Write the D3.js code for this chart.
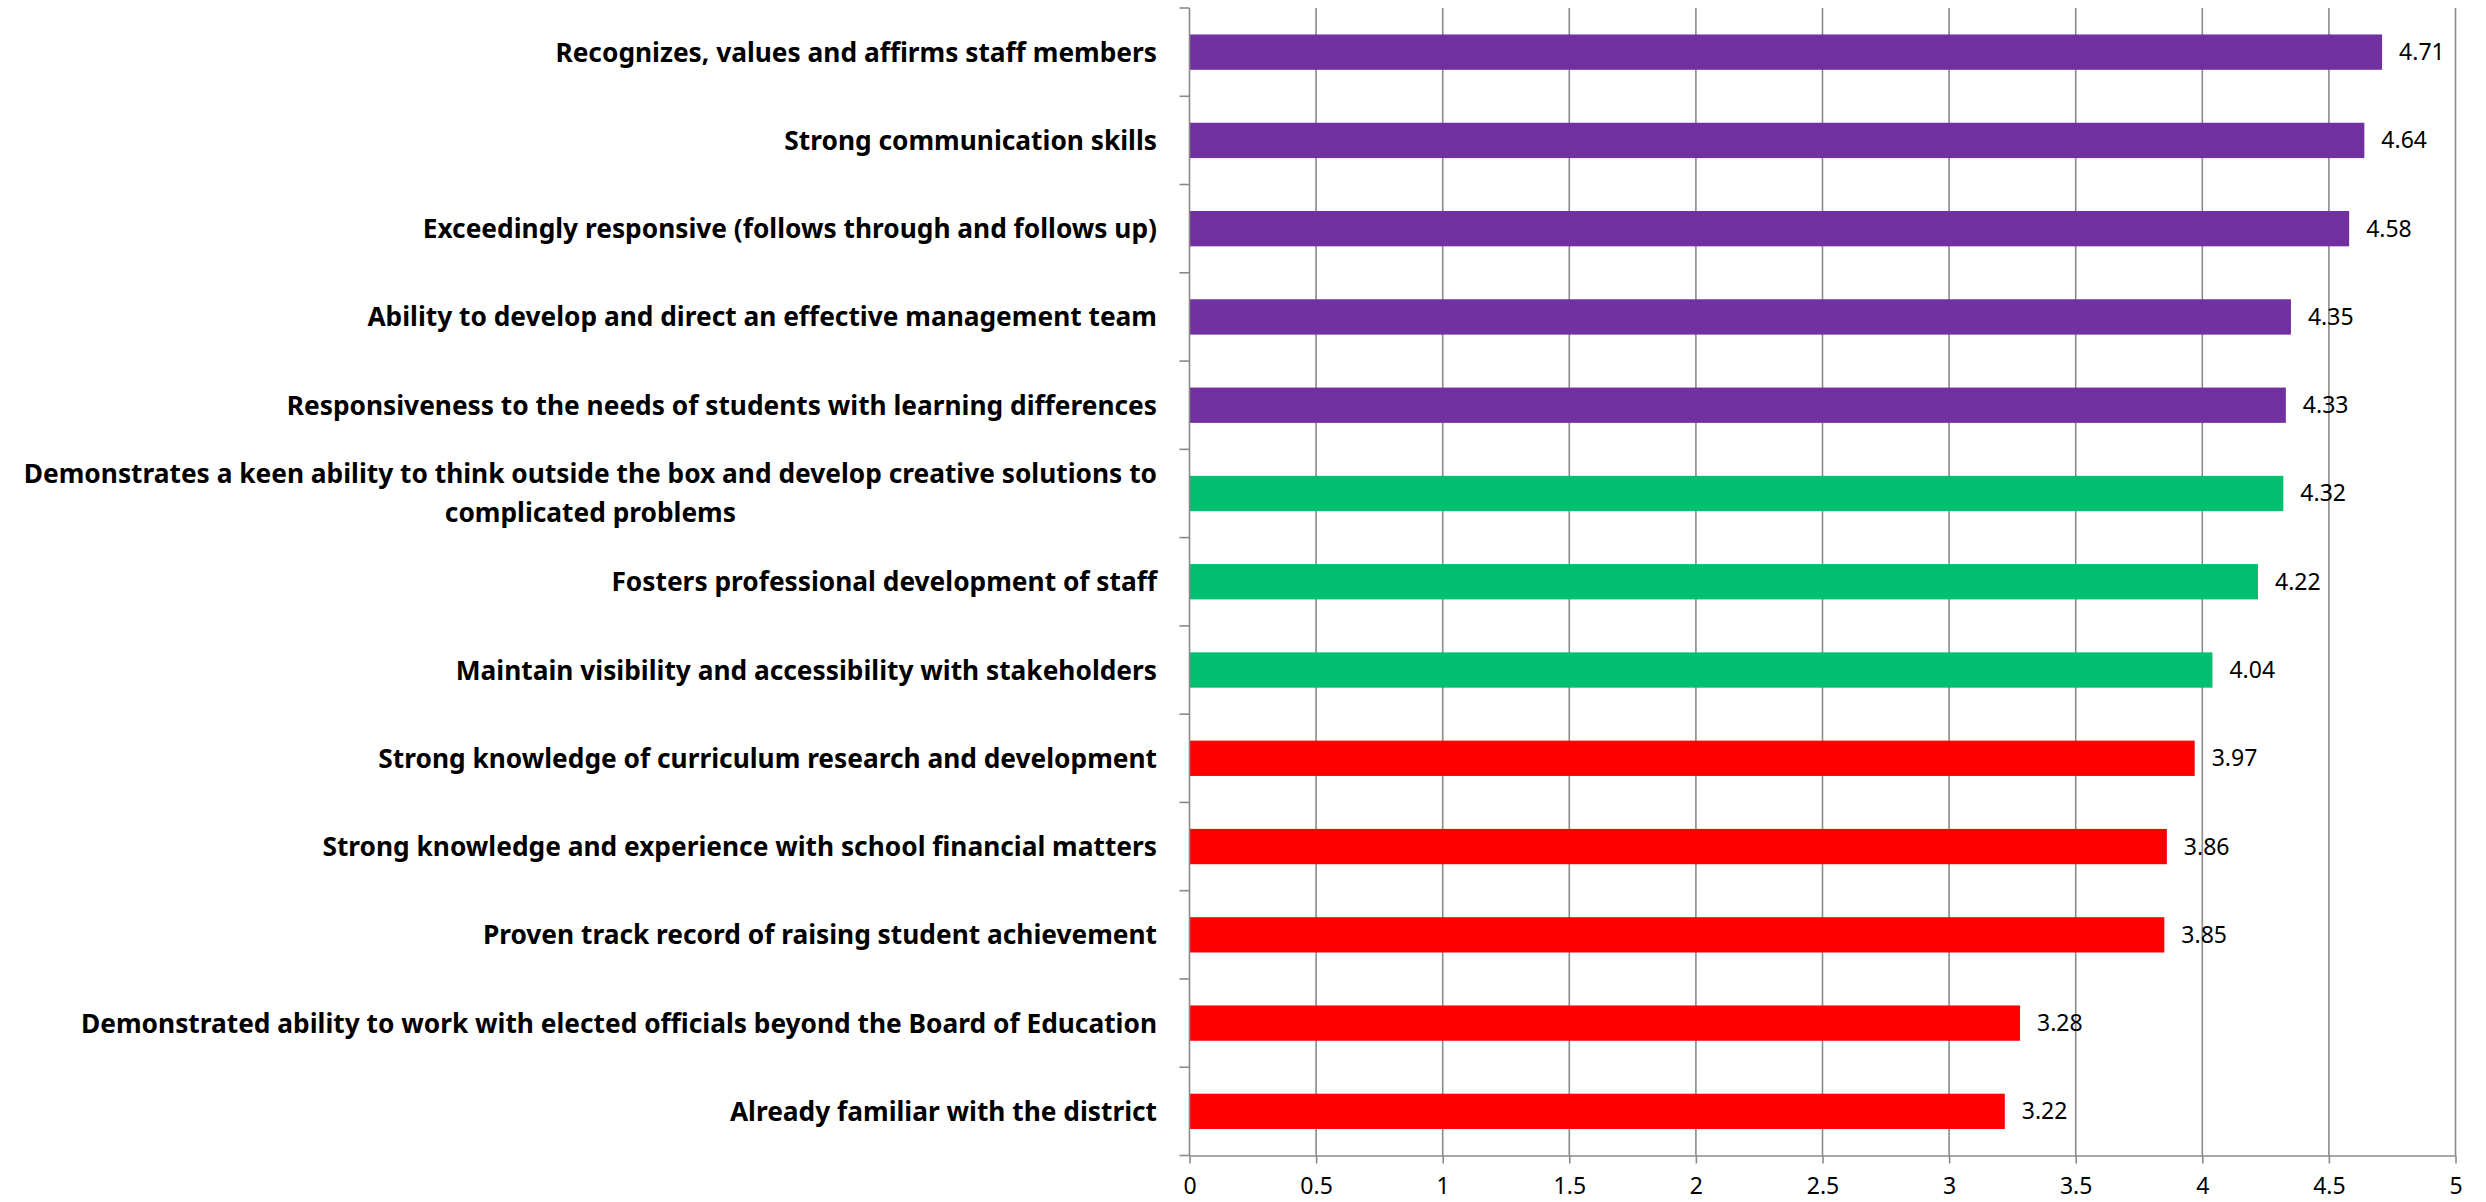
<!DOCTYPE html>
<html><head><meta charset="utf-8">
<script src="https://cdn.jsdelivr.net/npm/d3@7"></script>
<style>html,body{margin:0;padding:0;background:#fff}</style>
</head><body>
<svg id="chart" width="2486" height="1202"></svg>
<script>
const categories = [
  "Recognizes, values and affirms staff members",
  "Strong communication skills",
  "Exceedingly responsive (follows through and follows up)",
  "Ability to develop and direct an effective management team",
  "Responsiveness to the needs of students with learning differences",
  "Demonstrates a keen ability to think outside the box and develop creative solutions to complicated problems",
  "Fosters professional development of staff",
  "Maintain visibility and accessibility with stakeholders",
  "Strong knowledge of curriculum research and development",
  "Strong knowledge and experience with school financial matters",
  "Proven track record of raising student achievement",
  "Demonstrated ability to work with elected officials beyond the Board of Education",
  "Already familiar with the district"
];
const values = [4.71, 4.64, 4.58, 4.35, 4.33, 4.32, 4.22, 4.04, 3.97, 3.86, 3.85, 3.28, 3.22];
const tiers = ["high","high","high","high","high","mid","mid","mid","low","low","low","low","low"];
const tierColors = {high: "#7030A0", mid: "#00BF6F", low: "#FF0000"};
const xTicks = [0, 0.5, 1, 1.5, 2, 2.5, 3, 3.5, 4, 4.5, 5];
const xTickLabels = ["0", "0.5", "1", "1.5", "2", "2.5", "3", "3.5", "4", "4.5", "5"];

(function draw() {
const svg = d3.select("#chart");
const plotLeft = 1189.5, plotRight = 2455.5, plotTop = 8, plotBottom = 1155.5;

const x = d3.scaleLinear().domain([0, 5]).range([plotLeft, plotRight]);
const y = d3.scaleBand().domain(categories).range([plotTop, plotBottom]).paddingInner(0.6).paddingOuter(0.3);
const step = y.step();

const gridColor = "#8a8a8a";

// vertical gridlines
svg.append("g").selectAll("line")
  .data(xTicks.filter(t => t > 0))
  .join("line")
  .attr("x1", d => x(d)).attr("x2", d => x(d))
  .attr("y1", plotTop).attr("y2", plotBottom)
  .attr("stroke", gridColor).attr("stroke-width", 1.6);

// bars
svg.append("g").selectAll("rect")
  .data(categories)
  .join("rect")
  .attr("x", x(0))
  .attr("y", d => y(d))
  .attr("height", y.bandwidth())
  .attr("width", (d, i) => x(values[i]) - x(0))
  .attr("fill", (d, i) => tierColors[tiers[i]]);

// y axis line and ticks at category boundaries
const yAxisG = svg.append("g");
yAxisG.append("line").attr("x1", plotLeft).attr("x2", plotLeft).attr("y1", plotTop).attr("y2", plotBottom)
  .attr("stroke", gridColor).attr("stroke-width", 1.6);
yAxisG.selectAll("line.tk")
  .data(d3.range(categories.length + 1))
  .join("line").attr("class", "tk")
  .attr("x1", plotLeft - 10).attr("x2", plotLeft)
  .attr("y1", i => plotTop + i * step).attr("y2", i => plotTop + i * step)
  .attr("stroke", gridColor).attr("stroke-width", 1.6);

// x axis
const xAxis = d3.axisBottom(x).tickValues(xTicks).tickFormat((d, i) => xTickLabels[i]).tickSize(8).tickSizeOuter(0);
const xg = svg.append("g").attr("transform", `translate(0,${plotBottom})`).call(xAxis);
xg.select(".domain").attr("stroke", gridColor).attr("stroke-width", 1.6);
xg.selectAll(".tick line").attr("stroke", gridColor).attr("stroke-width", 1.6);
xg.selectAll(".tick text")
  .attr("font-family", "'Noto Sans', sans-serif").attr("font-size", 23).attr("fill", "#000")
  .attr("dy", null).attr("y", 38);

// data labels
svg.append("g").selectAll("text")
  .data(categories)
  .join("text")
  .attr("x", (d, i) => x(values[i]) + 17)
  .attr("y", d => y(d) + y.bandwidth() / 2 + 8)
  .attr("font-family", "'Noto Sans', sans-serif").attr("font-size", 23).attr("fill", "#000")
  .text((d, i) => values[i].toFixed(2));

// category labels (bold, right aligned block, wrapped lines centred)
const labelFont = "'Noto Sans', sans-serif";
const labelRight = 1157;
const wrapWidth = 1150;
const lg = svg.append("g");
const probe = lg.append("text").attr("font-family", labelFont).attr("font-weight", "bold")
  .attr("font-size", 28).text(categories[0]);
const w28 = probe.node().getComputedTextLength();
probe.remove();
const fs = 28 * 602 / w28;
const lineH = 39;

categories.forEach((cat, i) => {
  const cy = y(cat) + y.bandwidth() / 2;
  const meas = lg.append("text").attr("font-family", labelFont).attr("font-weight", "bold").attr("font-size", fs);
  const words = cat.split(" ");
  const lines = [];
  let cur = [];
  words.forEach(wd => {
    const trial = cur.concat([wd]).join(" ");
    meas.text(trial);
    if (meas.node().getComputedTextLength() > wrapWidth && cur.length) {
      lines.push(cur.join(" "));
      cur = [wd];
    } else cur.push(wd);
  });
  lines.push(cur.join(" "));
  const widths = lines.map(ln => { meas.text(ln); return meas.node().getComputedTextLength(); });
  meas.remove();
  const blockW = d3.max(widths);
  const multi = lines.length > 1;
  const t = lg.append("text").attr("font-family", labelFont).attr("font-weight", "bold")
    .attr("font-size", fs).attr("text-anchor", multi ? "middle" : "end").attr("fill", "#000");
  const ax = multi ? labelRight - blockW / 2 : labelRight;
  const base = cy + 9.5 - (lines.length - 1) * lineH / 2;
  lines.forEach((ln, k) => {
    t.append("tspan").attr("x", ax).attr("y", base + k * lineH).text(ln);
  });
});
})();
</script>
</body></html>
